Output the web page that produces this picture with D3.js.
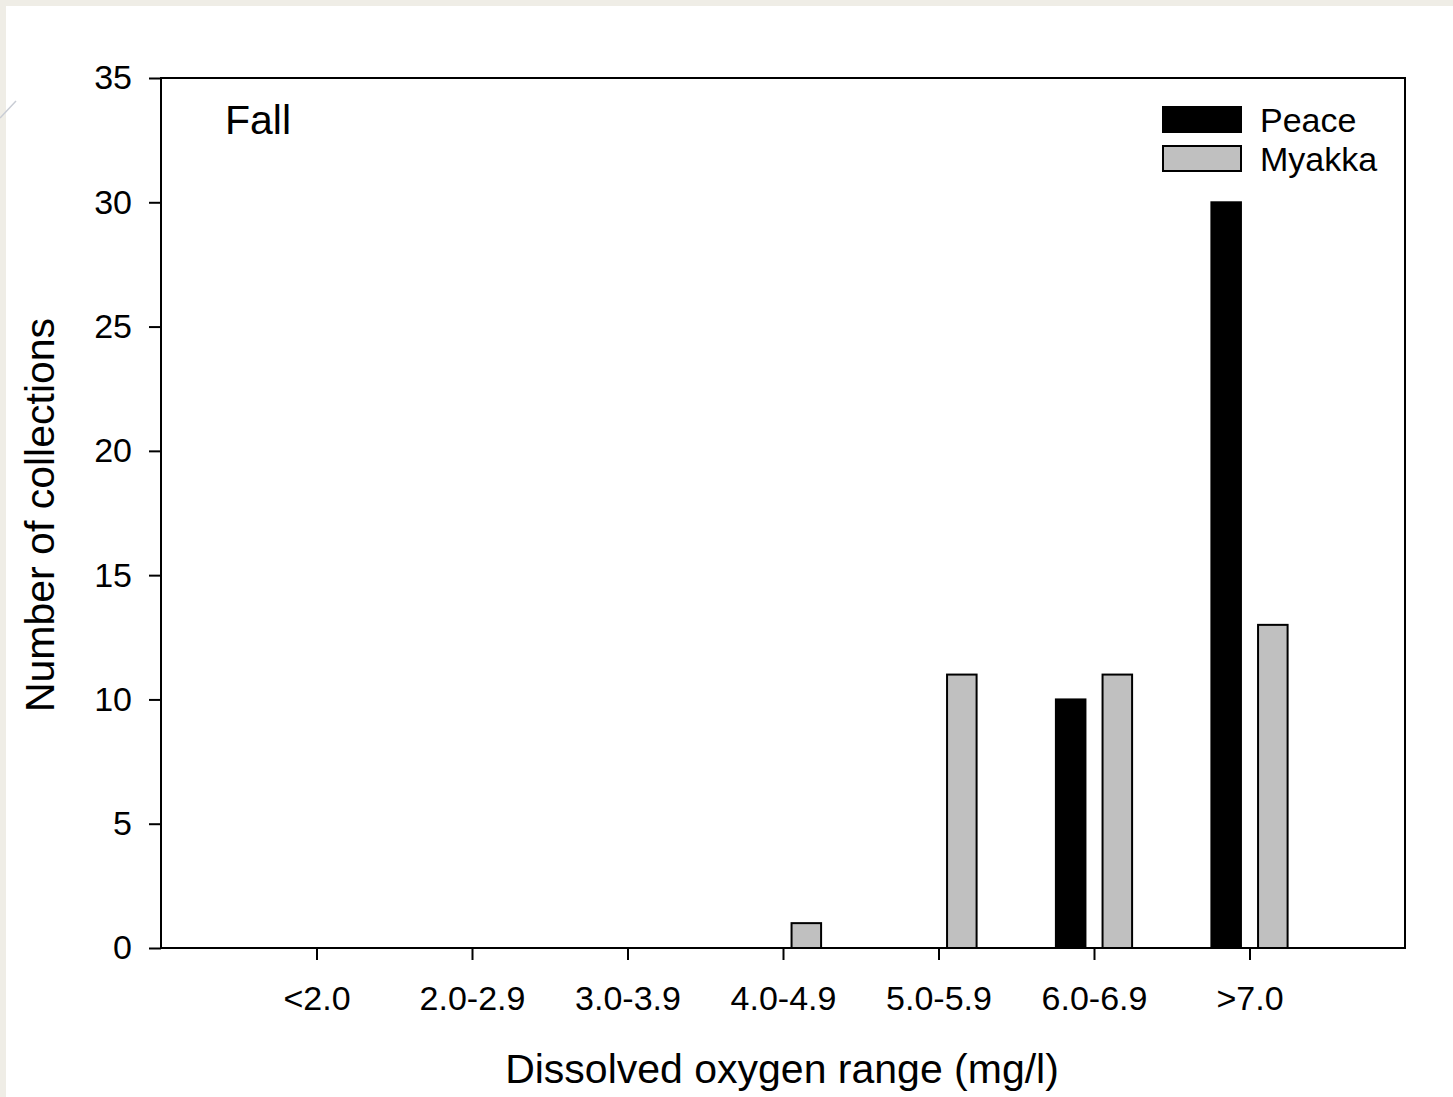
<!DOCTYPE html>
<html>
<head>
<meta charset="utf-8">
<script src="https://cdn.jsdelivr.net/npm/d3@7"></script>
<style>
  html, body { margin: 0; padding: 0; background: #efede6; }
  svg { display: block; }
  text { font-family: "Liberation Sans", Arial, sans-serif; fill: #000; }
</style>
</head>
<body>
<svg id="chart"></svg>
<script>
(function () {
  'use strict';

  // Dissolved oxygen bins and collection counts.
  const CATEGORIES = ['<2.0', '2.0-2.9', '3.0-3.9', '4.0-4.9', '5.0-5.9', '6.0-6.9', '>7.0'];
  const PEACE = [0, 0, 0, 0, 0, 10, 30];
  const MYAKKA = [0, 0, 0, 1, 11, 11, 13];
  const Y_TICKS = [0, 5, 10, 15, 20, 25, 30, 35];

  const SERIES = [
    { name: 'Peace',  values: PEACE,  fill: '#000000', offset: -0.245 },
    { name: 'Myakka', values: MYAKKA, fill: '#c0c0c0', offset: 0.055 }
  ];

  const W = 1453, H = 1097;
  const frame = { left: 161, top: 78, right: 1405, bottom: 948 };
  const barW = 0.19;
  const FONT = '"Liberation Sans", Arial, sans-serif';

  const svg = d3.select('#chart').attr('width', W).attr('height', H);

  // white panel over the off-white page edge
  svg.append('rect').attr('x', 6).attr('y', 6)
    .attr('width', W - 6).attr('height', H - 6).attr('fill', '#ffffff');
  svg.append('line')
    .attr('x1', 0).attr('y1', 118).attr('x2', 16).attr('y2', 101)
    .attr('stroke', '#c8ccd4').attr('stroke-width', 1.5);

  const x = d3.scaleLinear().domain([0, CATEGORIES.length + 1]).range([frame.left, frame.right]);
  const y = d3.scaleLinear().domain([0, 35]).range([frame.bottom, frame.top]);

  // bars
  SERIES.forEach(s => {
    svg.append('g').selectAll('rect')
      .data(s.values.map((v, i) => ({ v, i })).filter(d => d.v > 0))
      .join('rect')
      .attr('x', d => x(d.i + 1 + s.offset))
      .attr('y', d => y(d.v))
      .attr('width', d => x(d.i + 1 + s.offset + barW) - x(d.i + 1 + s.offset))
      .attr('height', d => y(0) - y(d.v))
      .attr('fill', s.fill)
      .attr('stroke', '#000')
      .attr('stroke-width', 2);
  });

  // frame
  svg.append('rect')
    .attr('x', frame.left).attr('y', frame.top)
    .attr('width', frame.right - frame.left).attr('height', frame.bottom - frame.top)
    .attr('fill', 'none').attr('stroke', '#000').attr('stroke-width', 2);

  // y axis
  const yAxis = svg.append('g')
    .attr('transform', `translate(${frame.left},0)`)
    .call(d3.axisLeft(y).tickValues(Y_TICKS).tickSize(12).tickPadding(17));
  yAxis.select('.domain').remove();
  yAxis.selectAll('line').attr('stroke', '#000').attr('stroke-width', 2);
  yAxis.selectAll('text').attr('font-size', 34).attr('fill', '#000').attr('font-family', FONT);

  // x axis
  const xAxis = svg.append('g')
    .attr('transform', `translate(0,${frame.bottom})`)
    .call(d3.axisBottom(x)
      .tickValues(d3.range(1, CATEGORIES.length + 1))
      .tickFormat(d => CATEGORIES[d - 1])
      .tickSize(12).tickPadding(26));
  xAxis.select('.domain').remove();
  xAxis.selectAll('line').attr('stroke', '#000').attr('stroke-width', 2);
  xAxis.selectAll('text').attr('font-size', 34).attr('fill', '#000').attr('font-family', FONT);

  // axis titles
  svg.append('text')
    .attr('x', (frame.left + frame.right) / 2 - 1).attr('y', 1083)
    .attr('text-anchor', 'middle').attr('font-size', 41)
    .text('Dissolved oxygen range (mg/l)');
  svg.append('text')
    .attr('transform', `translate(54,${(frame.top + frame.bottom) / 2 + 2}) rotate(-90)`)
    .attr('text-anchor', 'middle').attr('font-size', 41)
    .text('Number of collections');

  // panel label
  svg.append('text').attr('x', 225).attr('y', 134).attr('font-size', 41).text('Fall');

  // legend
  const legend = svg.append('g').attr('transform', 'translate(1163,107)');
  SERIES.forEach((s, i) => {
    const g = legend.append('g').attr('transform', `translate(0,${i * 39})`);
    g.append('rect').attr('width', 78).attr('height', 25)
      .attr('fill', s.fill).attr('stroke', '#000').attr('stroke-width', 2);
    g.append('text').attr('x', 97).attr('y', 25).attr('font-size', 34).text(s.name);
  });
})();
</script>
</body>
</html>
